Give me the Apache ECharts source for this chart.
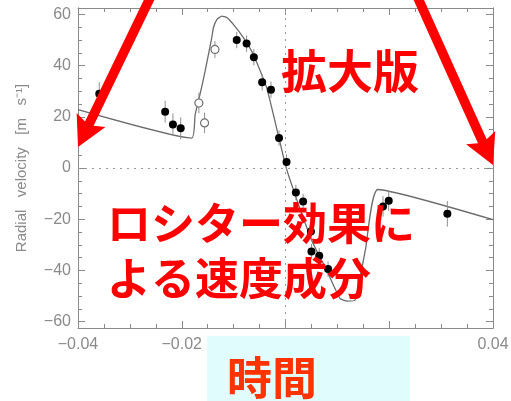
<!DOCTYPE html>
<html>
<head>
<meta charset="utf-8">
<script src="https://cdn.jsdelivr.net/npm/echarts@6/dist/echarts.min.js"></script>
<style>
  html, body { margin: 0; padding: 0; background: #fff; }
  #chart { width: 511px; height: 401px; }
</style>
</head>
<body>
<div id="chart"></div>
<script>
// Radial-velocity measurements around transit (time in days from mid-transit)
const filledTime = [-0.0359, -0.0232, -0.0217, -0.0202, -0.0094, -0.0075, -0.0061, -0.0045, -0.0028,
                    -0.00125, 0.0002, 0.0020, 0.0034, 0.0049, 0.0050, 0.0065, 0.0082, 0.0188, 0.0199, 0.0312];
const filledVel  = [29.0, 22.0, 17.0, 15.5, 50.0, 48.6, 43.3, 33.5, 30.6,
                    11.7, 2.3, -9.6, -13.1, -24.8, -32.6, -34.3, -39.5, -15.0, -12.8, -17.9];
const filledErr  = [4.5, 4.3, 4.3, 4.3, 3.2, 3.2, 3.2, 3.2, 3.2,
                    3.0, 3.0, 3.0, 3.0, 3.0, 3.0, 3.0, 3.0, 4.0, 4.0, 5.0];

const openTime = [-0.0167, -0.0156, -0.0136];
const openVel  = [25.4, 17.6, 46.3];
const openErr  = [4.0, 4.0, 3.3];

// Model curve including the Rossiter effect
const modelTime = [-0.0400, -0.01806, -0.01742, -0.01679, -0.01613, -0.01550, -0.01486, -0.01421,
                   -0.01390, -0.01324, -0.01228, -0.01132, -0.01005, -0.00812, -0.00620, -0.00362,
                   0.0000, 0.00087, 0.00280, 0.00530, 0.00790, 0.01050, 0.01190, 0.01340,
                   0.01540, 0.01780, 0.04000];
const modelVel  = [22.8, 11.7, 20.8, 26.1, 31.9, 37.8, 44.3, 50.9,
                   54.8, 58.0, 59.3, 58.8, 56.1, 50.9, 44.3, 31.3,
                   1.0, -4.6, -16.0, -29.4, -39.8, -50.9, -52.0, -51.6,
                   -32.0, -8.4, -20.2];

// Axis ticks
const xTickInterval = 0.02;
const yMajorTicks = [-60, -40, -20, 0, 20, 40, 60];
const yMinorTicks = [-60, -55, -50, -45, -40, -35, -30, -25, -20, -15, -10, -5, 0,
                     5, 10, 15, 20, 25, 30, 35, 40, 45, 50, 55, 60];

const axisGrey = '#8a8a8a';
const labelFont = 'Liberation Sans';
const minus = v => (v < 0 ? '\u2212' : '') + Math.abs(v);

function pairs(xs, ys) { return xs.map((x, i) => [x, ys[i]]); }
function bars(xs, ys, es) { return xs.map((x, i) => [x, ys[i] - es[i], ys[i] + es[i]]); }

const xBase = {
  type: 'value', min: -0.04, max: 0.04, interval: xTickInterval,
  axisLine: { show: true, onZero: false, lineStyle: { color: axisGrey, width: 1 } },
  axisTick: { show: true, inside: true, length: 7, lineStyle: { color: axisGrey } },
  minorTick: { show: true, splitNumber: 4, length: 4, lineStyle: { color: axisGrey } },
  splitLine: { show: false }
};

function yAxisDef(position, ticks, len, withLabels) {
  return {
    type: 'value', position: position, min: -62.5, max: 62.5,
    axisLine: { show: true, onZero: false, lineStyle: { color: axisGrey, width: 1 } },
    axisTick: { show: true, inside: true, length: len, customValues: ticks, lineStyle: { color: axisGrey } },
    axisLabel: withLabels
      ? { show: true, customValues: yMajorTicks, formatter: minus, color: axisGrey,
          fontSize: 16, fontFamily: labelFont, margin: 7 }
      : { show: false },
    splitLine: { show: false }
  };
}

// Arrow outline: shaft plus triangular head, from start point to tip
function arrowPoints(x0, y0, x1, y1, shaftW, headLen, headHalf) {
  const dx = x1 - x0, dy = y1 - y0, L = Math.hypot(dx, dy);
  const ux = dx / L, uy = dy / L, px = -uy, py = ux;
  const bx = x1 - ux * headLen, by = y1 - uy * headLen;
  const nx = bx + ux * 4, ny = by + uy * 4;
  const s = shaftW / 2;
  return [
    [x0 + px * s, y0 + py * s],
    [nx + px * s, ny + py * s],
    [bx + px * headHalf, by + py * headHalf],
    [x1, y1],
    [bx - px * headHalf, by - py * headHalf],
    [nx - px * s, ny - py * s],
    [x0 - px * s, y0 - py * s]
  ];
}

const chart = echarts.init(document.getElementById('chart'), null, { renderer: 'canvas' });

chart.setOption({
  animation: false,
  backgroundColor: '#ffffff',
  grid: { left: 78, right: 18, top: 8, bottom: 73, containLabel: false, outerBoundsMode: 'none' },
  xAxis: [
    Object.assign({}, xBase, {
      position: 'bottom',
      axisLabel: { show: true, formatter: v => (v < 0 ? '\u2212' : '') + Math.abs(v).toFixed(2),
                   color: axisGrey, fontSize: 16, fontFamily: labelFont, margin: 9 }
    }),
    Object.assign({}, xBase, { position: 'top', axisLabel: { show: false } })
  ],
  yAxis: [
    Object.assign(yAxisDef('left', yMajorTicks, 7, true), {
      name: 'Radial   velocity   [m   s\u207B\u00B9]',
      nameLocation: 'middle', nameRotate: 90, nameGap: 49,
      nameTextStyle: { color: axisGrey, fontSize: 15, fontFamily: labelFont }
    }),
    yAxisDef('left', yMinorTicks, 4, false),
    yAxisDef('right', yMajorTicks, 7, false),
    yAxisDef('right', yMinorTicks, 4, false)
  ],
  series: [
    {
      type: 'line', name: 'model', xAxisIndex: 0, yAxisIndex: 0,
      data: pairs(modelTime, modelVel), showSymbol: false, smooth: 0.15,
      lineStyle: { color: '#6b6b6b', width: 1.3 }, z: 3,
      markLine: {
        silent: true, symbol: 'none', label: { show: false },
        lineStyle: { color: '#9a9a9a', type: [2, 5], width: 1 },
        data: [{ yAxis: 0 }, { xAxis: 0 }]
      }
    },
    {
      type: 'custom', name: 'errors', xAxisIndex: 0, yAxisIndex: 0,
      data: bars(filledTime, filledVel, filledErr).concat(bars(openTime, openVel, openErr)),
      renderItem: function (params, api) {
        const a = api.coord([api.value(0), api.value(1)]);
        const b = api.coord([api.value(0), api.value(2)]);
        return { type: 'line', shape: { x1: a[0], y1: a[1], x2: b[0], y2: b[1] },
                 style: { stroke: '#8f8f8f', lineWidth: 1 } };
      },
      z: 4
    },
    {
      type: 'scatter', name: 'filled', xAxisIndex: 0, yAxisIndex: 0,
      data: pairs(filledTime, filledVel), symbol: 'circle', symbolSize: 8,
      itemStyle: { color: '#000000', opacity: 1 }, z: 5
    },
    {
      type: 'scatter', name: 'open', xAxisIndex: 0, yAxisIndex: 0,
      data: pairs(openTime, openVel), symbol: 'circle', symbolSize: 8,
      itemStyle: { color: '#ffffff', borderColor: '#6f6f6f', borderWidth: 1.2, opacity: 1 }, z: 5
    }
  ],
  graphic: [
    { type: 'rect', shape: { x: 207, y: 336, width: 203, height: 65 },
      style: { fill: '#e1fcfc' }, z: 100 },
    { type: 'text', z: 110,
      style: { text: '時間', x: 227, y: 378, fill: '#ff3300', fontSize: 45, fontWeight: 'bold',
               fontFamily: 'Noto Sans CJK JP', verticalAlign: 'middle' } },
    { type: 'text', z: 110,
      style: { text: '拡大版', x: 281, y: 71, fill: '#ff0000', fontSize: 46, fontWeight: 'bold',
               fontFamily: 'Noto Sans CJK JP', verticalAlign: 'middle' } },
    { type: 'text', z: 110,
      style: { text: 'ロシター効果に', x: 107, y: 223, fill: '#ff0000', fontSize: 44, fontWeight: 'bold',
               fontFamily: 'Noto Sans CJK JP', verticalAlign: 'middle' } },
    { type: 'text', z: 110,
      style: { text: 'よる速度成分', x: 107, y: 278, fill: '#ff0000', fontSize: 44, fontWeight: 'bold',
               fontFamily: 'Noto Sans CJK JP', verticalAlign: 'middle' } },
    { type: 'polygon', z: 110,
      shape: { points: arrowPoints(151, -4, 78, 147, 9.5, 30, 16) },
      style: { fill: '#ff0000' } },
    { type: 'polygon', z: 110,
      shape: { points: arrowPoints(417, -4, 493, 165, 9.5, 30, 16) },
      style: { fill: '#ff0000' } }
  ]
});
</script>
</body>
</html>
